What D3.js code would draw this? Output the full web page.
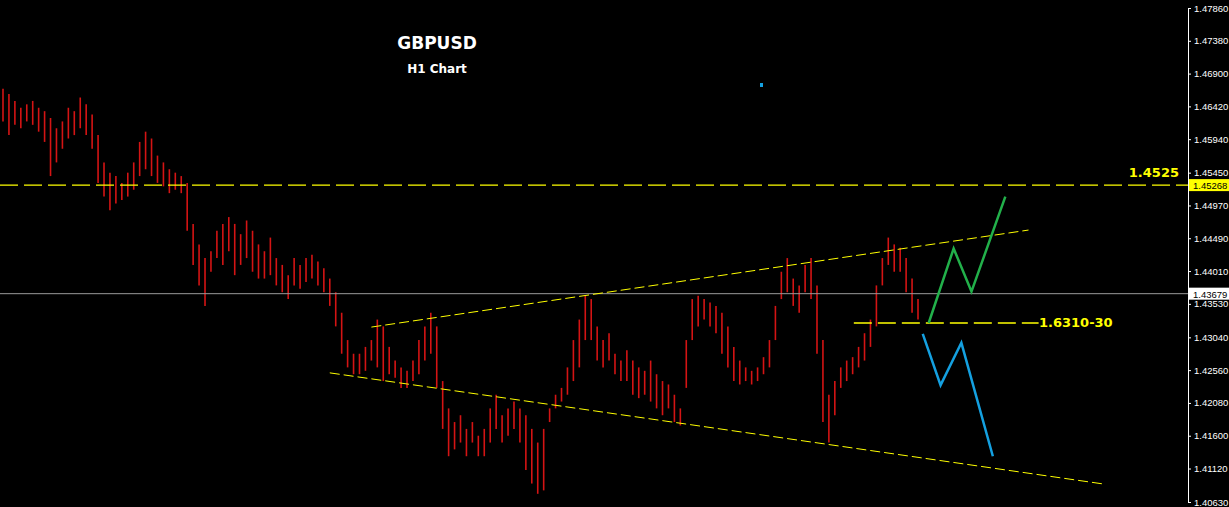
<!DOCTYPE html>
<html><head><meta charset="utf-8">
<script src="https://cdn.jsdelivr.net/npm/d3@7"></script>
<style>body{margin:0;background:#000}svg{display:block}</style></head>
<body><svg id="c" width="1229" height="507"></svg>
<script>
const tickLabels=["1.47860","1.47380","1.46900","1.46420","1.45940","1.45450","1.44970","1.44490","1.44010","1.43530","1.43040","1.42560","1.42080","1.41600","1.41120","1.40630"];
const highs=[1.4668,1.4660,1.4650,1.4640,1.4645,1.4650,1.4640,1.4635,
1.4625,1.4610,
1.4620,1.4640,1.4635,1.4655,1.4645,1.4630,
1.4600,1.4560,1.4545,1.4540,1.4530,
1.4545,1.4560,1.4590,1.4605,1.4595,1.4570,1.4560,1.4550,1.4545,1.4540,
1.4530,1.4470,1.4440,1.4420,
1.4430,1.4460,1.4470,1.4480,1.4470,1.4455,1.4475,1.4460,1.4440,
1.4430,1.4450,1.4420,1.4410,1.4395,
1.4420,1.4410,1.4420,1.4425,1.4415,1.4405,1.4390,
1.4370,1.4340,1.4300,1.4280,
1.4280,1.4290,1.4300,1.4330,1.4320,1.4290,1.4270,1.4260,1.4255,1.4270,1.4300,1.4320,1.4340,1.4320,
1.4240,1.4200,1.4180,1.4190,1.4170,1.4180,1.4160,1.4170,1.4200,1.4220,1.4190,1.4200,1.4210,1.4200,1.4190,1.4170,
1.4150,1.4170,
1.4200,1.4220,1.4230,1.4260,1.4300,1.4330,1.4365,
1.4360,1.4320,1.4300,1.4310,1.4280,1.4270,1.4285,1.4270,1.4260,1.4255,1.4270,1.4250,1.4240,1.4235,1.4220,1.4200,
1.4300,1.4360,1.4365,1.4360,1.4355,1.4350,1.4340,
1.4320,1.4290,1.4270,1.4260,1.4255,1.4260,1.4275,1.4300,
1.4350,1.4400,1.4420,1.4390,1.4380,1.4410,1.4420,
1.4380,1.4300,1.4220,
1.4240,1.4260,1.4270,1.4275,1.4290,1.4310,1.4330,
1.4380,1.4420,1.4450,1.4440,
1.4435,1.4420,1.4390,1.4360];
const lows=[1.4620,1.4600,1.4615,1.4610,1.4620,1.4615,1.4605,1.4590,
1.4540,1.4560,
1.4580,1.4595,1.4600,1.4610,1.4600,1.4580,
1.4530,1.4510,1.4490,1.4500,1.4505,
1.4510,1.4520,1.4540,1.4550,1.4540,1.4530,1.4525,1.4515,1.4520,1.4515,
1.4460,1.4410,1.4380,1.4350,
1.4400,1.4420,1.4410,1.4430,1.4395,1.4410,1.4420,1.4400,1.4390,
1.4390,1.4395,1.4380,1.4370,1.4360,
1.4380,1.4375,1.4385,1.4390,1.4380,1.4370,1.4350,
1.4320,1.4280,1.4260,1.4250,
1.4250,1.4255,1.4270,1.4260,1.4240,1.4250,1.4245,1.4230,1.4230,1.4240,1.4250,1.4270,1.4280,1.4230,
1.4170,1.4130,1.4140,1.4150,1.4130,1.4150,1.4130,1.4130,1.4150,1.4170,1.4150,1.4160,1.4170,1.4150,1.4110,1.4090,
1.4075,1.4080,
1.4180,1.4200,1.4210,1.4220,1.4240,1.4260,1.4300,
1.4300,1.4270,1.4260,1.4270,1.4250,1.4240,1.4240,1.4220,1.4215,1.4220,1.4210,1.4200,1.4190,1.4200,1.4180,1.4175,
1.4230,1.4300,1.4320,1.4330,1.4320,1.4310,1.4280,
1.4260,1.4240,1.4235,1.4240,1.4235,1.4240,1.4250,1.4260,
1.4300,1.4360,1.4370,1.4350,1.4340,1.4370,1.4360,
1.4280,1.4180,1.4150,
1.4190,1.4230,1.4240,1.4250,1.4260,1.4270,1.4290,
1.4320,1.4380,1.4410,1.4400,
1.4400,1.4370,1.4340,1.4330];
const upperTrend=[[62,1.4319],[172.6,1.4461]];
const lowerTrend=[[55,1.4252],[185.5,1.4089]];
const supportLine=[[143.2,1.4325],[174.3,1.4325]];
const greenPath=[[155.8,1.4325],[160,1.4434],[163,1.4371],[168.7,1.4510]];
const bluePath=[[154.8,1.4309],[157.8,1.4234],[161.3,1.4296],[166.6,1.4130]];
const resistance=1.45268, current=1.43679;

const svg=d3.select("#c");
const y=d3.scaleLinear().domain([1.4063,1.4786]).range([502,8]);
const x=d3.scaleLinear().domain([0,154]).range([3,918]);
const axX=1188;
const F="Liberation Sans";
svg.append("g").selectAll("line").data(highs).join("line")
 .attr("x1",(d,i)=>x(i)).attr("x2",(d,i)=>x(i))
 .attr("y1",d=>y(d)).attr("y2",(d,i)=>y(lows[i]))
 .attr("stroke","#d41414").attr("stroke-width",1.6);
svg.append("line").attr("x1",0).attr("x2",axX).attr("y1",y(current)).attr("y2",y(current)).attr("stroke","#9a9a9a").attr("stroke-width",1);
svg.append("line").attr("x1",0).attr("x2",axX).attr("y1",y(resistance)).attr("y2",y(resistance)).attr("stroke","#ffff00").attr("stroke-width",1.3).attr("stroke-dasharray","18,6");
const ln=d3.line().x(d=>x(d[0])).y(d=>y(d[1]));
[upperTrend,lowerTrend].forEach(t=>svg.append("path").attr("d",ln(t)).attr("fill","none").attr("stroke","#ffff00").attr("stroke-width",1).attr("stroke-dasharray","10,4"));
svg.append("path").attr("d",ln(supportLine)).attr("stroke","#ffff00").attr("stroke-width",1.3).attr("stroke-dasharray","18,6");
svg.append("path").attr("d",ln(greenPath)).attr("fill","none").attr("stroke","#22b04a").attr("stroke-width",2.5);
svg.append("path").attr("d",ln(bluePath)).attr("fill","none").attr("stroke","#14a0e0").attr("stroke-width",2.5);
svg.append("rect").attr("x",760).attr("y",83).attr("width",3).attr("height",4).attr("fill","#14a0e0");
svg.append("text").attr("x",437).attr("y",49).attr("text-anchor","middle").attr("fill","#fff").attr("font-family","DejaVu Sans").attr("font-weight","bold").attr("font-size",17).text("GBPUSD");
svg.append("text").attr("x",437).attr("y",73).attr("text-anchor","middle").attr("fill","#fff").attr("font-family","DejaVu Sans").attr("font-weight","bold").attr("font-size",12).text("H1 Chart");
svg.append("text").attr("x",1179).attr("y",177).attr("text-anchor","end").attr("fill","#ffff00").attr("font-family","DejaVu Sans").attr("font-weight","bold").attr("font-size",13).text("1.4525");
svg.append("text").attr("x",1039).attr("y",327).attr("fill","#ffff00").attr("font-family","DejaVu Sans").attr("font-weight","bold").attr("font-size",13).text("1.6310-30");
const ticks=tickLabels.map(Number);
const ax=svg.append("g").attr("transform",`translate(${axX},0)`)
 .call(d3.axisRight(y).tickValues(ticks).tickFormat((d,i)=>tickLabels[i]).tickSize(3).tickPadding(3));
ax.select(".domain").attr("stroke","#fff");
ax.selectAll("line").attr("stroke","#fff");
ax.selectAll("text").attr("fill","#fff").attr("font-family",F).attr("font-size",9.5);
[[resistance,"#ffff00","1.45268"],[current,"#ffffff","1.43679"]].forEach(([v,c,t])=>{
 svg.append("rect").attr("x",axX+1).attr("y",y(v)-6).attr("width",40).attr("height",12).attr("fill",c);
 svg.append("text").attr("x",axX+5).attr("y",y(v)+4).attr("fill","#000").attr("font-family",F).attr("font-size",9.5).text(t);
});
</script></body></html>
